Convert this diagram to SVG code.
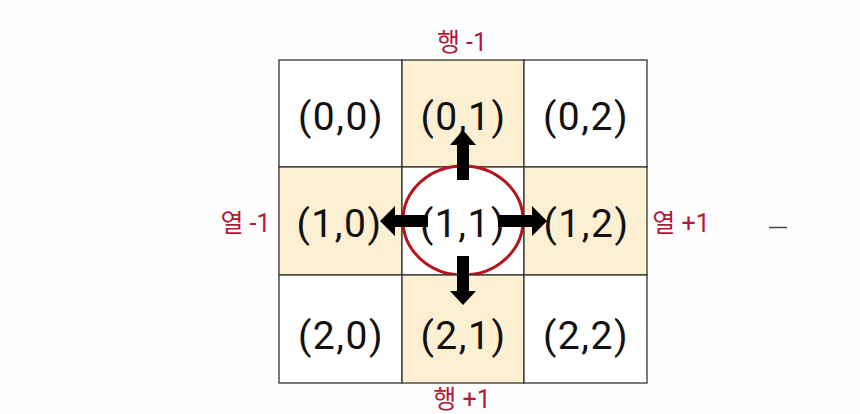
<svg xmlns="http://www.w3.org/2000/svg" width="860" height="414" viewBox="0 0 860 414">
<style>
.cell{stroke:#333;stroke-width:1.3}
.w{fill:#ffffff}
.y{fill:#fdf0d2}
.t{font-family:Roboto,"Noto Sans",sans-serif;font-size:39px;font-weight:400;letter-spacing:1.5px;fill:#111;text-anchor:middle}
.lbl{font-family:Roboto,"Noto Sans CJK KR",sans-serif;font-size:25px;fill:#b3173a;text-anchor:middle}
.arr{fill:#000}
</style>
<rect width="860" height="414" fill="#fefefe"/>
<g id="c00"><rect class="cell w" x="279" y="60" width="123" height="107"/><text class="t" x="341" y="130">(0,0)</text></g>
<g id="c01"><rect class="cell y" x="402" y="60" width="122" height="107"/><text class="t" x="463.5" y="130">(0,1)</text></g>
<g id="c02"><rect class="cell w" x="524" y="60" width="123" height="107"/><text class="t" x="586" y="130">(0,2)</text></g>
<g id="c10"><rect class="cell y" x="279" y="167" width="123" height="108"/><text class="t" x="339.5" y="237">(1,0)</text></g>
<g id="c11"><rect class="cell w" x="402" y="167" width="122" height="108"/><ellipse cx="463" cy="220.5" rx="60" ry="54.5" fill="none" stroke="#b5141c" stroke-width="3"/><text class="t" x="463" y="237">(1,1)</text></g>
<g id="c12"><rect class="cell y" x="524" y="167" width="123" height="108"/><text class="t" x="586.5" y="237">(1,2)</text></g>
<g id="c20"><rect class="cell w" x="279" y="275" width="123" height="108"/><text class="t" x="341" y="349">(2,0)</text></g>
<g id="c21"><rect class="cell y" x="402" y="275" width="122" height="108"/><text class="t" x="463.5" y="349">(2,1)</text></g>
<g id="c22"><rect class="cell w" x="524" y="275" width="123" height="108"/><text class="t" x="586" y="349">(2,2)</text></g>
<g id="connectors">
<polygon class="arr" points="457,180 469,180 469,145 476,145 463,130 450,145 457,145"/>
<polygon class="arr" points="457,256 469,256 469,291 476,291 463,305 450,291 457,291"/>
<polygon class="arr" points="428,215 428,227 395,227 395,236 380,221 395,206 395,215"/>
<polygon class="arr" points="498,215 498,227 532,227 532,236 547,221 532,206 532,215"/>
</g>
<g id="labels">
<text class="lbl" x="462" y="51">행 -1</text>
<text class="lbl" x="462" y="408">행 +1</text>
<text class="lbl" x="245.5" y="232">열 -1</text>
<text class="lbl" x="681" y="232">열 +1</text>
</g>
<line x1="769" y1="227.5" x2="787" y2="227.5" stroke="#444" stroke-width="1.5"/>
</svg>
